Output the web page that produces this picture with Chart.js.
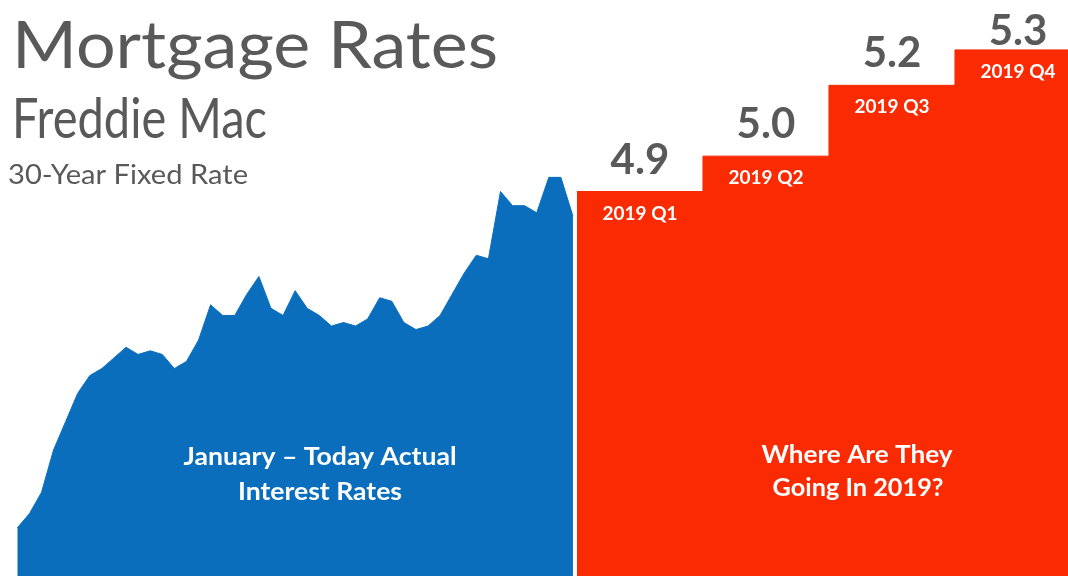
<!DOCTYPE html>
<html>
<head>
<meta charset="utf-8">
<script src="https://cdn.jsdelivr.net/npm/chart.js@4"></script>
<style>
  body { margin: 0; background: #fff; }
  #wrap { width: 1068px; height: 576px; position: relative; }
</style>
</head>
<body>
<div id="wrap"><canvas id="chart" width="1068" height="576"></canvas></div>
<script>
// Freddie Mac 30-year fixed, weekly, Jan 2018 onwards
let weeklyRates = [
  3.95, 3.99, 4.05, 4.17, 4.25, 4.33, 4.38, 4.40, 4.43, 4.46,
  4.44, 4.45, 4.44, 4.40, 4.42, 4.48, 4.58, 4.55, 4.55, 4.61,
  4.66, 4.57, 4.55, 4.62, 4.57, 4.55, 4.52, 4.53, 4.52, 4.54,
  4.60, 4.59, 4.53, 4.51, 4.52, 4.55, 4.61, 4.67, 4.72, 4.71,
  4.90, 4.86, 4.86, 4.84, 4.94, 4.94, 4.83
];
let quarterLabels = ["2019 Q1", "2019 Q2", "2019 Q3", "2019 Q4"];
let forecastRates = [4.9, 5.0, 5.2, 5.3];
let forecastText = ["4.9", "5.0", "5.2", "5.3"];

let blue = "#0A6EBD";
let red = "#FA2A02";
let gray = "#595959";
let font = "Lato, 'Open Sans', sans-serif";

let bluePoints = weeklyRates.map(function (v, i) { return { x: i, y: v }; });
let redPoints = forecastRates.map(function (v, i) { return { x: i, y: v }; });
redPoints.push({ x: forecastRates.length, y: forecastRates[forecastRates.length - 1] });

// draw text squeezed/stretched to a given width
function fitText(ctx, text, x, y, w, align) {
  let m = ctx.measureText(text).width;
  let sx = w / m;
  ctx.save();
  ctx.textAlign = "left";
  let left = align === "center" ? x - w / 2 : x;
  ctx.translate(left, y);
  ctx.scale(sx, 1);
  ctx.fillText(text, 0, 0);
  ctx.restore();
}

let labelsPlugin = {
  id: "labels",
  afterDatasetsDraw: function (chart) {
    let ctx = chart.ctx;
    let xq = chart.scales.xq;
    let y = chart.scales.y;
    ctx.save();
    ctx.textBaseline = "alphabetic";

    // titles
    ctx.fillStyle = gray;
    ctx.font = "400 66px " + font;
    fitText(ctx, "Mortgage Rates", 12, 68, 486, "left");
    ctx.font = "400 56px " + font;
    fitText(ctx, "Freddie Mac", 12, 138, 255, "left");
    ctx.font = "400 27px " + font;
    fitText(ctx, "30-Year Fixed Rate", 8, 184, 240, "left");

    // forecast values and quarter names
    for (let i = 0; i < forecastRates.length; i++) {
      let cx = xq.getPixelForValue(i + 0.5);
      let top = y.getPixelForValue(forecastRates[i]);
      ctx.fillStyle = gray;
      ctx.font = "700 42px " + font;
      ctx.textAlign = "center";
      ctx.fillText(forecastText[i], cx, Math.max(top - 18, 45));
      ctx.fillStyle = "#fff";
      ctx.font = "700 19px " + font;
      ctx.textBaseline = "middle";
      ctx.fillText(quarterLabels[i], cx, top + 22);
      ctx.textBaseline = "alphabetic";
    }

    // captions
    ctx.fillStyle = "#fff";
    ctx.font = "700 25px " + font;
    fitText(ctx, "January \u2013 Today Actual", 320, 465, 273, "center");
    fitText(ctx, "Interest Rates", 320, 500, 164, "center");
    fitText(ctx, "Where Are They", 857, 463, 191, "center");
    fitText(ctx, "Going In 2019?", 858, 496, 171, "center");
    ctx.restore();
  }
};

let ctx = document.getElementById("chart").getContext("2d");
let chart = new Chart(ctx, {
  type: "line",
  data: {
    datasets: [
      {
        label: "Actual",
        data: bluePoints,
        xAxisID: "x",
        borderColor: blue,
        backgroundColor: blue,
        borderWidth: 1,
        pointRadius: 0,
        tension: 0,
        fill: "start",
      },
      {
        label: "Forecast",
        data: redPoints,
        xAxisID: "xq",
        borderColor: red,
        backgroundColor: red,
        borderWidth: 1,
        pointRadius: 0,
        stepped: "before",
        fill: "start",
      },
    ],
  },
  options: {
    responsive: false,
    animation: false,
    layout: { padding: 0 },
    plugins: { legend: { display: false }, tooltip: { enabled: false } },
    scales: {
      x: { type: "linear", display: false, min: -1.432, max: 86.98 },
      xq: { type: "linear", display: false, min: -4.579, max: 3.897 },
      y: { type: "linear", display: false, min: 3.814, max: 5.441 },
    },
  },
  plugins: [labelsPlugin],
});
</script>
</body>
</html>
